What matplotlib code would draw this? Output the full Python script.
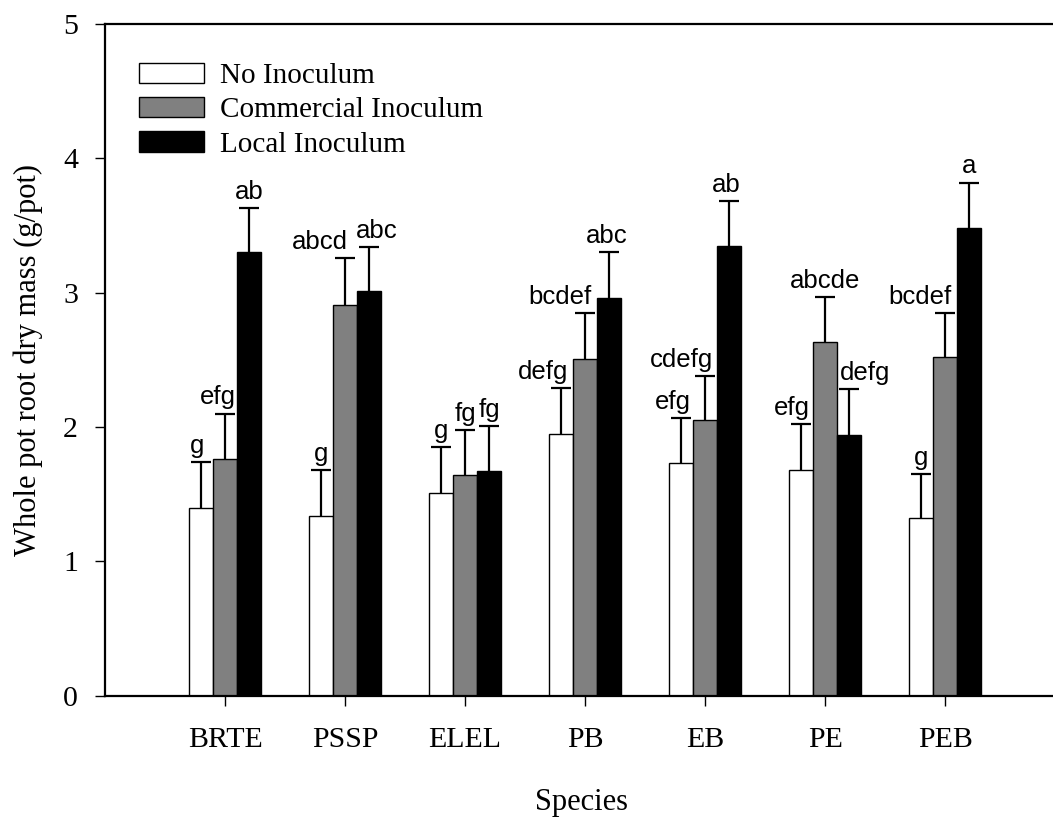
import numpy as np
import matplotlib
matplotlib.use('Agg')
import matplotlib.pyplot as plt

# data
species = ['BRTE', 'PSSP', 'ELEL', 'PB', 'EB', 'PE', 'PEB']
treatments = ['No Inoculum', 'Commercial Inoculum', 'Local Inoculum']

no_inoc = [1.40, 1.34, 1.51, 1.95, 1.73, 1.68, 1.32]
commercial = [1.76, 2.91, 1.64, 2.51, 2.05, 2.63, 2.52]
local = [3.30, 3.01, 1.67, 2.96, 3.35, 1.94, 3.48]

no_inoc_err = [0.34, 0.34, 0.34, 0.34, 0.34, 0.34, 0.33]
commercial_err = [0.34, 0.35, 0.34, 0.34, 0.33, 0.34, 0.33]
local_err = [0.33, 0.33, 0.34, 0.34, 0.33, 0.34, 0.34]

no_inoc_letters = ['g', 'g', 'g', 'defg', 'efg', 'efg', 'g']
commercial_letters = ['efg', 'abcd', 'fg', 'bcdef', 'cdefg', 'abcde', 'bcdef']
local_letters = ['ab', 'abc', 'fg', 'abc', 'ab', 'defg', 'a']

# small horizontal nudges (pixels) used in the original to keep letters apart
no_inoc_dx = [-4, 0, 0, -18, -8, -9, 0]
commercial_dx = [-7, -25, 0, -25, -24, 0, -25]
local_dx = [0, 8, 0, -2, -3, 16, 0]

serif = 'Liberation Serif'
sans = 'Liberation Sans'

fig = plt.figure(figsize=(10.53, 8.21), dpi=100)
ax = fig.add_axes([0.0997, 0.1526, 0.905, 0.818])

x = np.arange(len(species))
w = 0.2
groups = [
    (no_inoc, no_inoc_err, no_inoc_letters, no_inoc_dx, 'white', -w),
    (commercial, commercial_err, commercial_letters, commercial_dx, '#808080', 0),
    (local, local_err, local_letters, local_dx, 'black', w),
]

for (vals, errs, letters, dxs, color, off), name in zip(groups, treatments):
    pos = x + off
    tops = np.array(vals) + np.array(errs)
    ax.bar(pos, vals, width=w, color=color, edgecolor='black', linewidth=1.0,
           label=name, zorder=2)
    # upper error bars only
    ax.vlines(pos, vals, tops, color='black', linewidth=1.6, zorder=1)
    ax.plot(pos, tops, linestyle='none', marker='_', markersize=14.5,
            markeredgewidth=1.6, color='black', zorder=1)
    for p, t, lab, dx in zip(pos, tops, letters, dxs):
        ax.annotate(lab, (p, t), xytext=(dx * 0.72, 3), textcoords='offset points',
                    ha='center', va='bottom', fontsize=18.5, family=sans)

ax.set_xlim(-1.0, 6.94)
ax.set_ylim(0, 5)
ax.set_xticks(x)
ax.set_xticklabels(species, family=serif, fontsize=21.5)
ax.set_yticks([0, 1, 2, 3, 4, 5])
ax.set_yticklabels(['0', '1', '2', '3', '4', '5'], family=serif, fontsize=21.5)
ax.tick_params(axis='both', direction='out', length=7.5, width=1.0)
ax.tick_params(axis='x', pad=15)
ax.tick_params(axis='y', pad=12)

for s in ['left', 'bottom', 'top']:
    ax.spines[s].set_linewidth(1.6)
ax.spines['right'].set_visible(False)

ax.set_xlabel('Species', family=serif, fontsize=22)
ax.xaxis.set_label_coords(0.5, -0.138)
ax.set_ylabel('Whole pot root dry mass (g/pot)', family=serif, fontsize=22)
ax.yaxis.label.set_va('center')
ax.yaxis.set_label_coords(-0.081, 0.5)

leg = ax.legend(loc='upper left', bbox_to_anchor=(0.023, 0.96), frameon=False,
                prop={'family': serif, 'size': 21}, handlelength=2.25,
                handleheight=0.68, handletextpad=0.55, labelspacing=0.28,
                borderaxespad=0)

fig.savefig('out.png', dpi=100)
